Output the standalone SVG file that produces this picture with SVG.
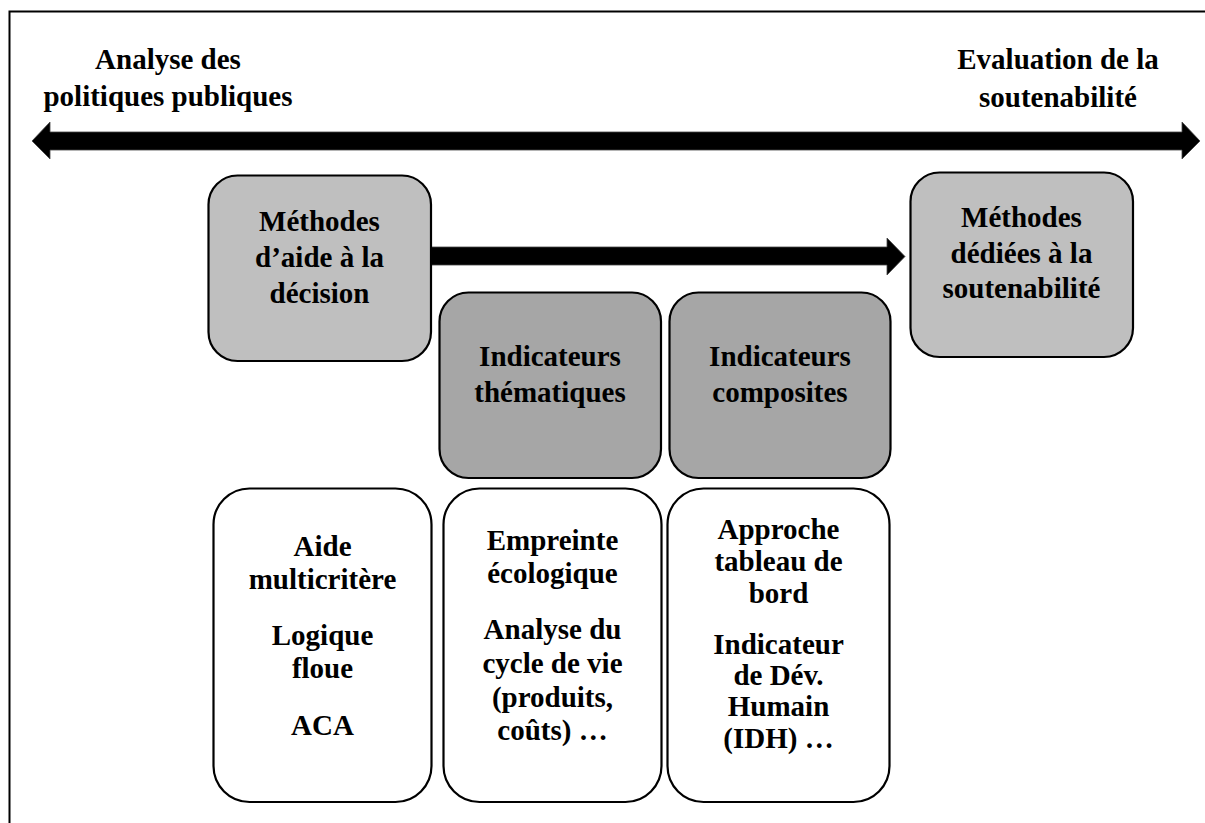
<svg xmlns="http://www.w3.org/2000/svg" width="1205" height="823" viewBox="0 0 1205 823">
<style>
  .t { font-family: "Liberation Serif", "Times New Roman", serif; font-weight: bold; font-size: 29px; fill: #000; text-anchor: middle; }
  .box { stroke: #000; stroke-width: 2.2; }
  .light { fill: #bfbfbf; }
  .dark { fill: #a6a6a6; }
  .white { fill: #ffffff; }
  .arrow { fill: #000; stroke: #444; stroke-width: 0.8; }
</style>
<rect x="0" y="0" width="1205" height="823" fill="#ffffff"/>
<rect id="frame" x="9.5" y="11.5" width="1220" height="840" fill="none" stroke="#000" stroke-width="2"/>

<g id="labels">
  <text class="t" x="168" y="69">Analyse des</text>
  <text class="t" x="168" y="106">politiques publiques</text>
  <text class="t" x="1058" y="69">Evaluation de la</text>
  <text class="t" x="1058" y="107">soutenabilité</text>
</g>

<g id="connectors">
  <path class="arrow" d="M32,141 L50,122 L50,132 L1182,132 L1182,122 L1200,141 L1182,159 L1182,150 L50,150 L50,159 Z"/>
  <path class="arrow" d="M431,247 L887,247 L887,238 L905,256.5 L887,275 L887,265 L431,265 Z"/>
</g>

<g id="node-methodes-aide">
  <rect class="box light" x="208.5" y="175.5" width="222.5" height="185.5" rx="29" ry="29"/>
  <text class="t" x="319.5" y="231">Méthodes</text>
  <text class="t" x="319.5" y="267">d’aide à la</text>
  <text class="t" x="319.5" y="303">décision</text>
</g>

<g id="node-methodes-dediees">
  <rect class="box light" x="910.5" y="172.5" width="222.5" height="184.5" rx="29" ry="29"/>
  <text class="t" x="1021.5" y="227">Méthodes</text>
  <text class="t" x="1021.5" y="263">dédiées à la</text>
  <text class="t" x="1021.5" y="298">soutenabilité</text>
</g>

<g id="node-indicateurs-thematiques">
  <rect class="box dark" x="439.5" y="292.5" width="221.5" height="185.5" rx="29" ry="29"/>
  <text class="t" x="550" y="366">Indicateurs</text>
  <text class="t" x="550" y="402">thématiques</text>
</g>

<g id="node-indicateurs-composites">
  <rect class="box dark" x="669.5" y="292.5" width="221" height="185.5" rx="29" ry="29"/>
  <text class="t" x="780" y="366">Indicateurs</text>
  <text class="t" x="780" y="402">composites</text>
</g>

<g id="node-aide">
  <rect class="box white" x="213.5" y="488.5" width="218" height="313.5" rx="36" ry="36"/>
  <text class="t" x="322.5" y="556">Aide</text>
  <text class="t" x="322.5" y="589">multicritère</text>
  <text class="t" x="322.5" y="645">Logique</text>
  <text class="t" x="322.5" y="678">floue</text>
  <text class="t" x="322.5" y="735">ACA</text>
</g>

<g id="node-empreinte">
  <rect class="box white" x="443.5" y="488.5" width="218" height="313.5" rx="36" ry="36"/>
  <text class="t" x="552.5" y="550">Empreinte</text>
  <text class="t" x="552.5" y="583">écologique</text>
  <text class="t" x="552.5" y="639">Analyse du</text>
  <text class="t" x="552.5" y="673">cycle de vie</text>
  <text class="t" x="552.5" y="707">(produits,</text>
  <text class="t" x="552.5" y="740">coûts) …</text>
</g>

<g id="node-approche">
  <rect class="box white" x="667.5" y="488.5" width="222" height="313.5" rx="36" ry="36"/>
  <text class="t" x="778.5" y="539">Approche</text>
  <text class="t" x="778.5" y="571">tableau de</text>
  <text class="t" x="778.5" y="603">bord</text>
  <text class="t" x="778.5" y="654">Indicateur</text>
  <text class="t" x="778.5" y="685">de Dév.</text>
  <text class="t" x="778.5" y="716">Humain</text>
  <text class="t" x="778.5" y="748">(IDH) …</text>
</g>
</svg>
